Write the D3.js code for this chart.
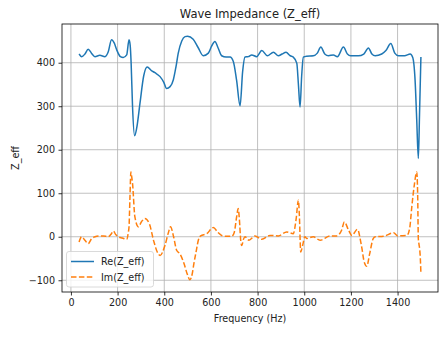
<!DOCTYPE html>
<html><head><meta charset="utf-8">
<script src="https://cdn.jsdelivr.net/npm/d3@7"></script>
<style>
body{margin:0;background:#fff;}
svg{display:block;font-family:"DejaVu Sans",sans-serif;}
</style></head><body>
<svg id="chart" width="441" height="339"></svg>
<script>
const title = "Wave Impedance (Z_eff)";
const xLabel = "Frequency (Hz)";
const yLabel = "Z_eff";
const seriesNames = ["Re(Z_eff)", "Im(Z_eff)"];
const xTicks = [0, 200, 400, 600, 800, 1000, 1200, 1400];
const yTicks = [-100, 0, 100, 200, 300, 400];

const reFreq = [35,46,60,74,88,103,124,146,160,174,186,196,212,224,239,249,254,258,264,273,282,296,312,327,345,360,382,398,410,425,439,450,460,475,489,500,524,545,567,589,603,617,630,646,665,682,696,710,725,736,746,760,775,796,818,842,868,889,905,922,940,953,968,975,982,989,996,1010,1039,1056,1071,1088,1104,1125,1142,1168,1185,1199,1232,1255,1275,1290,1304,1332,1350,1371,1388,1404,1430,1454,1465,1475,1482,1489,1494,1500];
const reVals = [420,414,420,431,422,414,417,414,425,453,445,430,414,412,418,453,440,400,300,232,250,307,370,390,382,377,368,355,341,345,361,390,422,450,460,461,454,435,416,422,438,449,435,416,413,413,403,360,301,380,413,414,418,414,428,416,424,416,420,424,416,413,399,350,298,370,413,415,416,422,436,420,416,418,414,436,420,416,416,420,434,420,416,420,428,444,422,416,416,420,412,360,270,180,280,413];

const imFreq = [35,46,60,74,88,103,124,139,160,172,182,192,203,220,239,246,249,253,257,260,264,274,289,303,317,336,355,370,382,403,418,427,440,453,467,485,498,510,520,527,538,546,556,582,610,630,646,670,689,700,710,717,722,728,732,740,746,763,789,818,853,889,925,953,965,975,979,985,993,1003,1011,1039,1068,1111,1139,1160,1172,1190,1204,1228,1245,1258,1268,1280,1295,1304,1339,1383,1400,1440,1452,1461,1472,1482,1486,1489,1492,1495,1498,1500];
const imVals = [-12,0,-8,-16,-5,0,2,2,0,6,13,5,0,-3,-6,10,23,90,149,140,123,46,23,35,42,30,-10,-35,-43,-20,10,23,0,-31,-39,-62,-85,-99,-85,-62,-30,-8,2,7,21,10,3,1,1,10,45,65,40,-10,-20,-5,0,-8,2,-6,3,2,11,7,40,84,50,-35,-20,0,-4,0,-8,2,2,15,34,15,3,17,-20,-60,-68,-40,-5,0,1,9,2,3,20,69,120,149,100,-5,-18,-30,-55,-85];

const W = 441, H = 339;
const m = {left: 62, right: 438, top: 24, bottom: 292};
const svg = d3.select("#chart");

const allX = reFreq.concat(imFreq);
const allY = reVals.concat(imVals);
const [x0, x1] = d3.extent(allX);
const [y0, y1] = d3.extent(allY);
const xPad = (x1 - x0) * 0.05, yPad = (y1 - y0) * 0.05;
const x = d3.scaleLinear().domain([x0 - xPad, x1 + xPad]).range([m.left, m.right]);
const y = d3.scaleLinear().domain([y0 - yPad, y1 + yPad]).range([m.bottom, m.top]);

// grid
const g = svg.append("g");
g.selectAll(".vg").data(xTicks).join("line")
  .attr("x1", d => x(d)).attr("x2", d => x(d)).attr("y1", m.top).attr("y2", m.bottom)
  .attr("stroke", "#b0b0b0").attr("stroke-width", 0.8);
g.selectAll(".hg").data(yTicks).join("line")
  .attr("x1", m.left).attr("x2", m.right).attr("y1", d => y(d)).attr("y2", d => y(d))
  .attr("stroke", "#b0b0b0").attr("stroke-width", 0.8);

const clip = svg.append("clipPath").attr("id", "clip").append("rect")
  .attr("x", m.left).attr("y", m.top).attr("width", m.right - m.left).attr("height", m.bottom - m.top);

const lineRe = d3.line().x((d, i) => x(reFreq[i])).y(d => y(d)).curve(d3.curveMonotoneX);
const lineIm = d3.line().x((d, i) => x(imFreq[i])).y(d => y(d)).curve(d3.curveMonotoneX);

const plot = svg.append("g").attr("clip-path", "url(#clip)");
plot.append("path").attr("d", lineRe(reVals)).attr("fill", "none")
  .attr("stroke", "#1f77b4").attr("stroke-width", 1.5).attr("stroke-linejoin", "round").attr("stroke-linecap", "butt");
plot.append("path").attr("d", lineIm(imVals)).attr("fill", "none")
  .attr("stroke", "#ff7f0e").attr("stroke-width", 1.5).attr("stroke-dasharray", "5.5,2.4").attr("stroke-linejoin", "round");

// axes
const xAxis = d3.axisBottom(x).tickValues(xTicks).tickSize(3.5).tickPadding(3.5).tickFormat(d3.format("d"));
const yAxis = d3.axisLeft(y).tickValues(yTicks).tickSize(3.5).tickPadding(3.5)
  .tickFormat(d => d < 0 ? "\u2212" + Math.abs(d) : String(d));
const gx = svg.append("g").attr("transform", `translate(0,${m.bottom})`).call(xAxis);
const gy = svg.append("g").attr("transform", `translate(${m.left},0)`).call(yAxis);
[gx, gy].forEach(a => {
  a.select(".domain").remove();
  a.selectAll(".tick line").attr("stroke", "#000").attr("stroke-width", 0.8);
  a.selectAll(".tick text").attr("fill", "#222").style("font-size", "9.6px").style("font-family", "DejaVu Sans");
});

svg.append("rect").attr("x", m.left).attr("y", m.top).attr("width", m.right - m.left).attr("height", m.bottom - m.top)
  .attr("fill", "none").attr("stroke", "#000").attr("stroke-width", 0.8);

// labels
svg.append("text").attr("x", (m.left + m.right) / 2).attr("y", 18).attr("text-anchor", "middle")
  .style("font-size", "11.5px").attr("fill", "#222").text(title);
svg.append("text").attr("x", (m.left + m.right) / 2).attr("y", 322).attr("text-anchor", "middle")
  .style("font-size", "9.6px").attr("fill", "#222").text(xLabel);
svg.append("text").attr("transform", `translate(19,${(m.top + m.bottom) / 2}) rotate(-90)`).attr("text-anchor", "middle")
  .style("font-size", "9.6px").attr("fill", "#222").text(yLabel);

// legend
const lg = svg.append("g");
lg.append("rect").attr("x", 66.5).attr("y", 251.5).attr("width", 87).attr("height", 35.5).attr("rx", 2.5)
  .attr("fill", "rgba(255,255,255,0.8)").attr("stroke", "#d0d0d0").attr("stroke-width", 0.8);
const colors = ["#1f77b4", "#ff7f0e"];
const dashes = [null, "5.5,2.4"];
seriesNames.forEach((n, i) => {
  const cy = 261.5 + i * 15.5;
  lg.append("line").attr("x1", 71).attr("x2", 94).attr("y1", cy).attr("y2", cy)
    .attr("stroke", colors[i]).attr("stroke-width", 1.5).attr("stroke-dasharray", dashes[i]);
  lg.append("text").attr("x", 101).attr("y", cy + 3.5).style("font-size", "9.6px").attr("fill", "#222").text(n);
});
</script></body></html>
